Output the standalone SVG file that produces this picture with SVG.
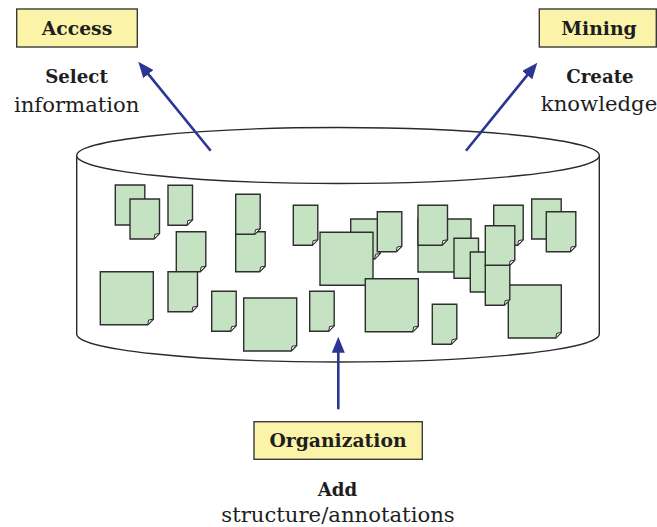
<svg xmlns="http://www.w3.org/2000/svg" xmlns:xlink="http://www.w3.org/1999/xlink" width="657" height="527" viewBox="0 0 657 527">
  <style>
    .box { fill: #fbf4a8; stroke: #3a3a3a; stroke-width: 1.4; }
    .lbl { font-family: "DejaVu Serif", serif; font-weight: bold; font-size: 18.8px; fill: #1e1e1e; text-anchor: middle; }
    .cap { font-family: "DejaVu Serif", serif; font-size: 21.2px; fill: #1e1e1e; text-anchor: middle; }
    .capb { font-family: "DejaVu Serif", serif; font-weight: bold; font-size: 18.2px; fill: #1e1e1e; text-anchor: middle; }
    .cyl { fill: #ffffff; stroke: #2a2a2a; stroke-width: 1.4; }
    .page { fill: #c5e3c3; stroke: #2e2e2e; stroke-width: 1.4; stroke-linejoin: miter; }
    .fold { fill: #eef3ec; stroke: #2e2e2e; stroke-width: 1; }
    .arrow { stroke: #2b3593; stroke-width: 2.6; fill: none; marker-end: url(#head); }
  </style>
  <defs>
    <marker id="head" markerUnits="userSpaceOnUse" markerWidth="18" markerHeight="14" refX="2" refY="6.5" orient="auto">
      <path d="M0,0 L16,6.5 L0,13 Z" fill="#2b3593"/>
    </marker>
    <!-- page shapes with a dog-eared lower right corner -->
    <g id="pageS">
      <path class="page" d="M0,0 H24.5 V34.5 L19,40 H0 Z"/>
      <path class="fold" d="M24.5,34.5 L19,40 L19.8,35.3 Z"/>
    </g>
    <g id="pageM">
      <path class="page" d="M0,0 H29.5 V34.5 L24,40 H0 Z"/>
      <path class="fold" d="M29.5,34.5 L24,40 L24.8,35.3 Z"/>
    </g>
    <g id="pageB">
      <path class="page" d="M0,0 H53 V47.5 L47.5,53 H0 Z"/>
      <path class="fold" d="M53,47.5 L47.5,53 L48.3,48.3 Z"/>
    </g>
  </defs>

  <!-- storage cylinder -->
  <g id="repository">
    <path class="cyl" d="M76.7,155.5 V334 A261.3,28 0 0 0 599.3,334 V155.5"/>
    <ellipse class="cyl" cx="338" cy="155.5" rx="261.3" ry="28"/>
  </g>

  <!-- documents held in the repository -->
  <g id="documents">
    <use xlink:href="#pageM" x="115.3" y="185"/>
    <use xlink:href="#pageM" x="130" y="199"/>
    <use xlink:href="#pageS" x="168" y="185.3"/>
    <use xlink:href="#pageM" x="176.3" y="231.7"/>
    <use xlink:href="#pageM" x="235.7" y="231.7"/>
    <use xlink:href="#pageS" x="235.7" y="194.3"/>
    <use xlink:href="#pageS" x="293.3" y="205.3"/>
    <use xlink:href="#pageM" x="350.7" y="219"/>
    <use xlink:href="#pageB" x="320" y="232.3"/>
    <use xlink:href="#pageS" x="377.3" y="211.7"/>
    <use xlink:href="#pageB" x="100.3" y="271.7"/>
    <use xlink:href="#pageM" x="168" y="271.7"/>
    <use xlink:href="#pageS" x="211.7" y="291.3"/>
    <use xlink:href="#pageB" x="243.7" y="298"/>
    <use xlink:href="#pageS" x="309.7" y="291.3"/>
    <use xlink:href="#pageB" x="365.3" y="278.7"/>
    <use xlink:href="#pageB" x="418" y="219"/>
    <use xlink:href="#pageM" x="418" y="205.3"/>
    <use xlink:href="#pageS" x="454" y="238.3"/>
    <use xlink:href="#pageS" x="470.3" y="252"/>
    <use xlink:href="#pageM" x="493.7" y="205.3"/>
    <use xlink:href="#pageM" x="485.3" y="225.7"/>
    <use xlink:href="#pageB" x="508.3" y="285"/>
    <use xlink:href="#pageS" x="485.3" y="265.3"/>
    <use xlink:href="#pageM" x="531.7" y="199"/>
    <use xlink:href="#pageM" x="546.3" y="211.7"/>
    <use xlink:href="#pageS" x="432.3" y="304.3"/>
  </g>

  <!-- connectors -->
  <g id="connectors">
    <line class="arrow" x1="210.7" y1="150.7" x2="147.1" y2="72.6"/>
    <line class="arrow" x1="466" y1="150.7" x2="528.5" y2="73.6"/>
    <line class="arrow" x1="338.3" y1="409.3" x2="338.3" y2="350.7"/>
  </g>

  <g id="access">
    <rect class="box" x="16.7" y="9" width="120.6" height="38"/>
    <text class="lbl" x="77" y="35">Access</text>
    <text class="capb" x="76.5" y="83.3">Select</text>
    <text class="cap" x="76.7" y="111.5">information</text>
  </g>

  <g id="mining">
    <rect class="box" x="539.3" y="9" width="117" height="38"/>
    <text class="lbl" x="599" y="35">Mining</text>
    <text class="capb" x="600" y="83.3">Create</text>
    <text class="cap" x="599" y="111">knowledge</text>
  </g>

  <g id="organization">
    <rect class="box" x="254" y="421.7" width="168.3" height="37.6"/>
    <text class="lbl" x="338" y="447.3">Organization</text>
    <text class="capb" x="337.5" y="495.7">Add</text>
    <text class="cap" x="338" y="522.3">structure/annotations</text>
  </g>
</svg>
